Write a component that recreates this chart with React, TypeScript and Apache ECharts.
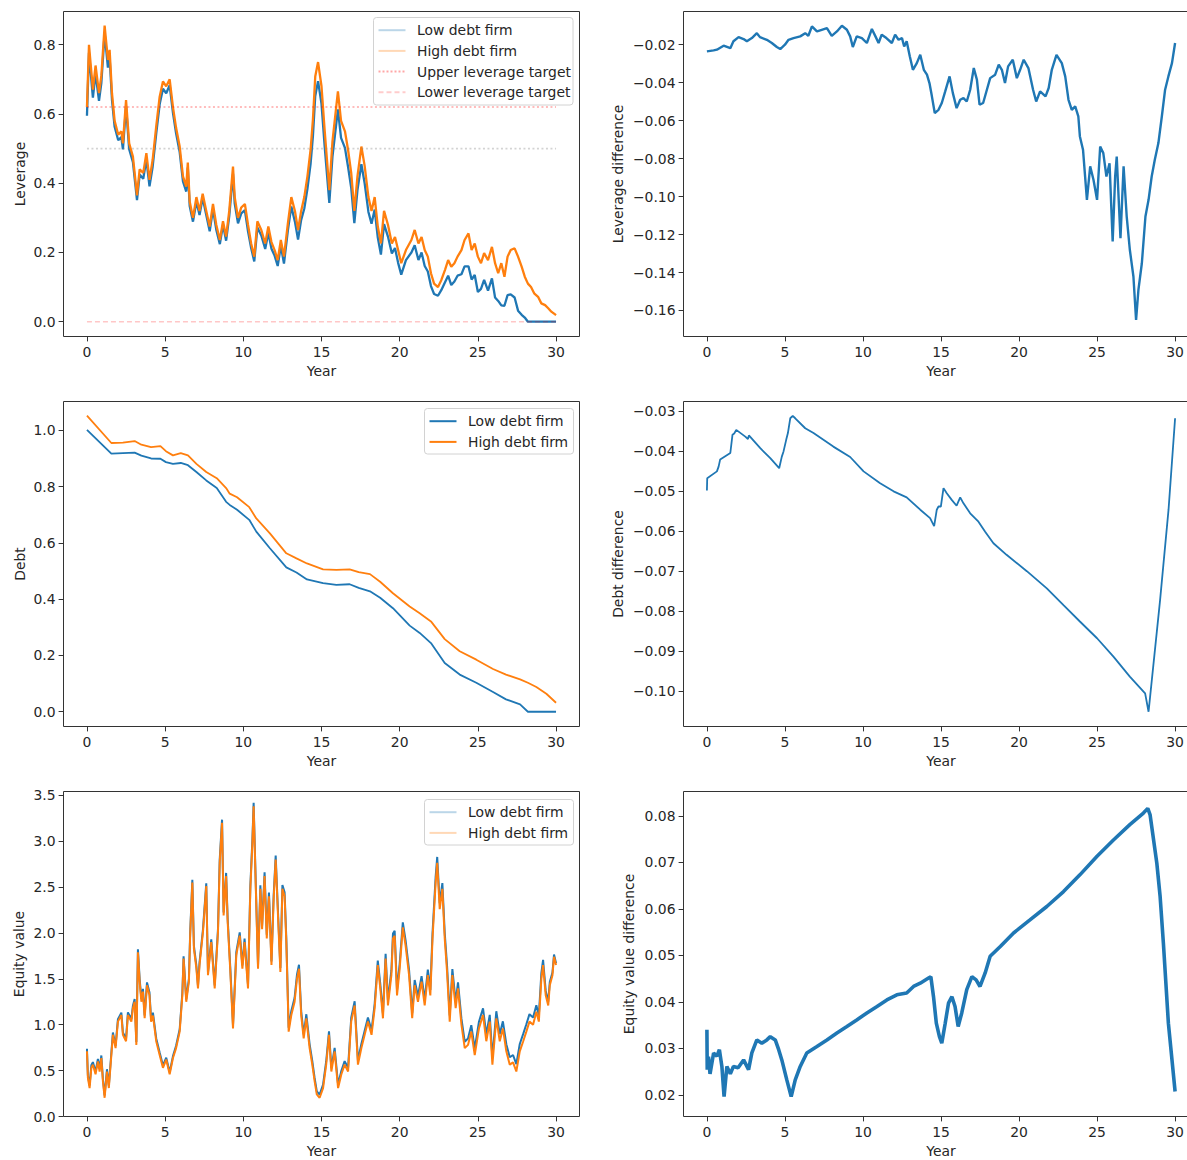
import React, { useEffect, useRef } from "react";
import * as echarts from "echarts";

// ---------------- DATA ----------------
const X_TICKS = [0, 5, 10, 15, 20, 25, 30];
const LEV_TICKS = [0, 0.2, 0.4, 0.6, 0.8];
const LEVDIFF_TICKS = [-0.16, -0.14, -0.12, -0.1, -0.08, -0.06, -0.04, -0.02];
const DEBT_TICKS = [0, 0.2, 0.4, 0.6, 0.8, 1.0];
const DEBTDIFF_TICKS = [-0.1, -0.09, -0.08, -0.07, -0.06, -0.05, -0.04, -0.03];
const EQ_TICKS = [0, 0.5, 1, 1.5, 2, 2.5, 3, 3.5];
const EQDIFF_TICKS = [0.02, 0.03, 0.04, 0.05, 0.06, 0.07, 0.08];

const UPPER_TARGET = 0.62;
const MID_LEVEL = 0.5;
const LOWER_TARGET = 0.0;
const TARGET_SPAN = [0, 30];

const LEV_YEARS = [
  0, 0.13, 0.38, 0.55, 0.77, 0.92, 1.13, 1.34, 1.45, 1.6,
  1.77, 2.0, 2.2, 2.3, 2.5, 2.7, 2.94, 3.2, 3.37, 3.6,
  3.8, 4.0, 4.2, 4.43, 4.65, 4.86, 5.07, 5.29, 5.5, 5.7,
  5.93, 6.14, 6.35, 6.45, 6.57, 6.78, 7.0, 7.2, 7.4, 7.63,
  7.85, 8.06, 8.27, 8.5, 8.7, 8.9, 9.1, 9.34, 9.45, 9.66,
  9.87, 10.1, 10.3, 10.5, 10.7, 10.9, 11.15, 11.4, 11.6, 11.8,
  12.0, 12.2, 12.4, 12.6, 12.85, 13.07, 13.3, 13.5, 13.7, 13.9,
  14.1, 14.3, 14.45, 14.6, 14.78, 15.0, 15.2, 15.5, 15.7, 16.05,
  16.25, 16.5, 16.7, 16.9, 17.1, 17.3, 17.55, 17.76, 18.0, 18.2,
  18.4, 18.6, 18.8, 19.0, 19.25, 19.5, 19.7, 19.9, 20.1, 20.4,
  20.75, 20.96, 21.2, 21.4, 21.6, 21.8, 22.0, 22.2, 22.45, 22.66,
  22.9, 23.1, 23.3, 23.5, 23.7, 23.95, 24.15, 24.4, 24.6, 24.8,
  25.0, 25.2, 25.4, 25.65, 25.9, 26.1, 26.3, 26.5, 26.7, 26.9,
  27.1, 27.35, 27.57, 27.8, 28.0, 28.2, 28.4, 28.6, 28.85, 29.06,
  29.3, 29.5, 29.7, 30.0,
];
const LEV_HIGH = [
  0.62, 0.80, 0.67, 0.74, 0.66, 0.71, 0.855, 0.756, 0.785, 0.66,
  0.58, 0.54, 0.55, 0.515, 0.64, 0.515, 0.477, 0.365, 0.44, 0.43,
  0.487, 0.41, 0.467, 0.564, 0.65, 0.694, 0.68, 0.70, 0.62, 0.56,
  0.506, 0.42, 0.39, 0.46, 0.347, 0.30, 0.36, 0.32, 0.37, 0.32,
  0.275, 0.34, 0.28, 0.236, 0.29, 0.246, 0.32, 0.448, 0.36, 0.30,
  0.33, 0.34, 0.28, 0.226, 0.188, 0.29, 0.265, 0.226, 0.275, 0.23,
  0.207, 0.178, 0.236, 0.188, 0.284, 0.36, 0.32, 0.265, 0.32, 0.36,
  0.42, 0.496, 0.583, 0.708, 0.75, 0.68, 0.554, 0.38, 0.52, 0.665,
  0.58, 0.55, 0.496, 0.43, 0.32, 0.42, 0.506, 0.45, 0.36, 0.32,
  0.36, 0.275, 0.226, 0.32, 0.28, 0.226, 0.245, 0.207, 0.169, 0.207,
  0.236, 0.265, 0.226, 0.245, 0.207, 0.188, 0.14, 0.11, 0.10, 0.12,
  0.15, 0.178, 0.159, 0.169, 0.188, 0.207, 0.236, 0.255, 0.207, 0.226,
  0.188, 0.169, 0.198, 0.178, 0.216, 0.169, 0.14, 0.169, 0.13, 0.188,
  0.207, 0.212, 0.188, 0.159, 0.13, 0.11, 0.10, 0.082, 0.072, 0.053,
  0.048, 0.039, 0.029, 0.019,
];
const LEV_LOW = [
  0.595, 0.777, 0.647, 0.717, 0.638, 0.689, 0.834, 0.734, 0.763, 0.641,
  0.563, 0.524, 0.533, 0.498, 0.622, 0.498, 0.461, 0.351, 0.425, 0.413,
  0.469, 0.391, 0.447, 0.543, 0.628, 0.673, 0.66, 0.683, 0.603, 0.544,
  0.49, 0.405, 0.376, 0.445, 0.334, 0.289, 0.347, 0.308, 0.358, 0.308,
  0.261, 0.325, 0.266, 0.224, 0.28, 0.234, 0.305, 0.427, 0.341, 0.284,
  0.313, 0.322, 0.261, 0.213, 0.174, 0.272, 0.249, 0.21, 0.257, 0.211,
  0.191, 0.161, 0.219, 0.168, 0.264, 0.333, 0.289, 0.237, 0.294, 0.327,
  0.384, 0.455, 0.535, 0.652, 0.695, 0.629, 0.508, 0.343, 0.476, 0.613,
  0.531, 0.502, 0.447, 0.387, 0.285, 0.38, 0.455, 0.40, 0.317, 0.283,
  0.324, 0.243, 0.194, 0.282, 0.246, 0.197, 0.213, 0.17, 0.136, 0.178,
  0.20, 0.221, 0.178, 0.20, 0.161, 0.145, 0.103, 0.08, 0.075, 0.091,
  0.114, 0.133, 0.106, 0.116, 0.133, 0.137, 0.16, 0.16, 0.122, 0.135,
  0.086, 0.095, 0.121, 0.09, 0.125, 0.07, 0.06, 0.047, 0.046, 0.077,
  0.079, 0.07, 0.032, 0.02, 0.012, 0, 0, 0, 0, 0,
  0, 0, 0, 0,
];

const LEVDIFF_YEARS = [
  0, 0.43, 0.64, 1.07, 1.5, 1.7, 2.03, 2.35, 2.56, 2.88,
  3.2, 3.4, 3.84, 4.16, 4.48, 4.7, 5.0, 5.23, 5.55, 5.98,
  6.3, 6.5, 6.73, 7.05, 7.26, 7.69, 8.0, 8.33, 8.65, 8.97,
  9.18, 9.35, 9.6, 9.93, 10.25, 10.57, 10.8, 11.0, 11.2, 11.5,
  11.85, 12.06, 12.28, 12.5, 12.64, 12.8, 13.0, 13.2, 13.45, 13.67,
  13.9, 14.1, 14.26, 14.4, 14.6, 14.84, 15.05, 15.27, 15.55, 15.76,
  16.0, 16.23, 16.44, 16.65, 16.87, 17.1, 17.3, 17.47, 17.7, 17.94,
  18.15, 18.47, 18.7, 18.9, 19.1, 19.3, 19.6, 19.86, 20.07, 20.3,
  20.6, 20.9, 21.1, 21.35, 21.7, 21.9, 22.1, 22.4, 22.74, 22.96,
  23.17, 23.38, 23.6, 23.8, 23.9, 24.1, 24.35, 24.56, 24.77, 25.0,
  25.2, 25.4, 25.6, 25.8, 26.0, 26.16, 26.26, 26.5, 26.7, 26.9,
  27.1, 27.33, 27.5, 27.65, 27.87, 28.1, 28.3, 28.5, 28.7, 28.93,
  29.15, 29.36, 29.57, 29.8, 30.0,
];
const LEVDIFF = [
  -0.0235, -0.023, -0.0226, -0.0205, -0.0218, -0.0182, -0.016, -0.017, -0.0182, -0.0165,
  -0.0139, -0.016, -0.0174, -0.0191, -0.0212, -0.0223, -0.02, -0.0174, -0.0165, -0.0156,
  -0.0139, -0.0153, -0.0103, -0.013, -0.0124, -0.0112, -0.0153, -0.013, -0.01, -0.0121,
  -0.0156, -0.0212, -0.0156, -0.0165, -0.0191, -0.0117, -0.0156, -0.0191, -0.0147, -0.0165,
  -0.0191, -0.0147, -0.0174, -0.0165, -0.0209, -0.0182, -0.0261, -0.0332, -0.0297, -0.0253,
  -0.0332, -0.0358, -0.0402, -0.0464, -0.056, -0.0543, -0.0507, -0.0446, -0.0367, -0.0455,
  -0.0534, -0.049, -0.0481, -0.0499, -0.0437, -0.0323, -0.0384, -0.0516, -0.0507, -0.0437,
  -0.0376, -0.0358, -0.0305, -0.0332, -0.0402, -0.0314, -0.0279, -0.0376, -0.0332, -0.0279,
  -0.0323, -0.0437, -0.0499, -0.0446, -0.0472, -0.0428, -0.0332, -0.0253, -0.0297, -0.0367,
  -0.049, -0.0543, -0.0525, -0.0578, -0.0683, -0.0753, -0.1017, -0.0841, -0.0911, -0.1017,
  -0.0736, -0.0771, -0.0894, -0.0824, -0.1236, -0.0894, -0.0789, -0.1219, -0.0841, -0.1105,
  -0.128, -0.1421, -0.165, -0.1491, -0.1351, -0.1105, -0.1017, -0.0894, -0.0806, -0.0718,
  -0.0578, -0.0437, -0.0367, -0.0297, -0.0191,
];

const DEBT_YEARS = [
  0, 1.56, 2.3, 3.05, 3.48, 4.1, 4.7, 5.05, 5.5, 6.0,
  6.46, 7.0, 7.63, 8.3, 8.9, 9.13, 9.6, 10.38, 10.83, 11.7,
  12.75, 13.4, 14.07, 15.1, 15.95, 16.8, 17.38, 18.1, 18.75, 19.57,
  20.64, 21.28, 22.0, 22.88, 23.84, 24.9, 25.97, 26.8, 27.7, 28.2,
  28.74, 29.38, 30.0,
];
const DEBT_HIGH = [
  1.052, 0.955, 0.956, 0.962, 0.949, 0.94, 0.944, 0.926, 0.911, 0.919,
  0.911, 0.881, 0.852, 0.83, 0.795, 0.775, 0.762, 0.727, 0.687, 0.634,
  0.563, 0.545, 0.527, 0.506, 0.504, 0.506, 0.496, 0.489, 0.462, 0.421,
  0.374, 0.35, 0.321, 0.258, 0.215, 0.185, 0.152, 0.132, 0.115, 0.103,
  0.088, 0.064, 0.032,
];
const DEBT_LOW = [
  1.002, 0.917, 0.919, 0.921, 0.91, 0.9, 0.899, 0.887, 0.881, 0.884,
  0.876, 0.852, 0.822, 0.795, 0.746, 0.735, 0.718, 0.682, 0.64, 0.581,
  0.513, 0.495, 0.47, 0.457, 0.451, 0.453, 0.44, 0.428, 0.405, 0.368,
  0.306, 0.28, 0.244, 0.173, 0.132, 0.103, 0.07, 0.044, 0.026, 0.0,
  0, 0, 0,
];

const DEBTDIFF_YEARS = [
  0, 0.02, 0.64, 0.75, 0.85, 1.5, 1.64, 1.75, 1.88, 2.46,
  2.63, 2.69, 3.42, 4.06, 4.63, 4.8, 4.91, 5.08, 5.19, 5.34,
  5.5, 5.66, 6.3, 6.83, 8.1, 9.18, 10.04, 11.1, 11.96, 12.8,
  13.67, 14.3, 14.56, 14.73, 14.84, 14.99, 15.16, 15.37, 15.7, 16.0,
  16.23, 16.44, 16.87, 17.4, 17.83, 18.36, 19.2, 20.5, 21.78, 22.85,
  23.9, 25.0, 26.05, 27.1, 28.08, 28.3, 28.4, 29.04, 29.58, 30.0,
];
const DEBTDIFF = [
  -0.0498, -0.0467, -0.045, -0.0438, -0.042, -0.0404, -0.0358, -0.0355, -0.0346, -0.0363,
  -0.0369, -0.036, -0.0392, -0.0417, -0.0442, -0.0413, -0.04, -0.0371, -0.0354, -0.0317,
  -0.0311, -0.0317, -0.0342, -0.0354, -0.0388, -0.0414, -0.045, -0.048, -0.05, -0.0515,
  -0.0546, -0.0567, -0.0587, -0.0546, -0.0538, -0.0538, -0.0492, -0.0505, -0.0522, -0.0536,
  -0.0515, -0.053, -0.0555, -0.0576, -0.0601, -0.063, -0.0659, -0.07, -0.0743, -0.0785,
  -0.0826, -0.0868, -0.0914, -0.0964, -0.1006, -0.1052, -0.1014, -0.0772, -0.0546, -0.0317,
];

const EQ_YEARS = [
  0, 0.03, 0.06, 0.17, 0.28, 0.38, 0.55, 0.7, 0.81, 0.92,
  1.02, 1.13, 1.28, 1.4, 1.56, 1.66, 1.83, 1.98, 2.2, 2.3,
  2.5, 2.62, 2.84, 2.94, 3.05, 3.16, 3.26, 3.37, 3.48, 3.58,
  3.69, 3.84, 4.0, 4.1, 4.22, 4.43, 4.65, 4.86, 5.07, 5.29,
  5.5, 5.7, 5.93, 6.1, 6.18, 6.35, 6.52, 6.6, 6.74, 6.84,
  7.0, 7.1, 7.2, 7.42, 7.63, 7.74, 7.95, 8.17, 8.38, 8.49,
  8.64, 8.74, 8.9, 9.0, 9.17, 9.34, 9.55, 9.77, 9.94, 10.08,
  10.3, 10.45, 10.58, 10.66, 10.8, 10.94, 11.09, 11.2, 11.36, 11.5,
  11.64, 11.8, 11.94, 12.07, 12.2, 12.37, 12.5, 12.64, 12.75, 12.9,
  13.07, 13.28, 13.43, 13.56, 13.7, 13.86, 14.03, 14.24, 14.41, 14.56,
  14.7, 14.88, 15.1, 15.3, 15.48, 15.63, 15.84, 16.06, 16.27, 16.48,
  16.7, 16.9, 17.12, 17.33, 17.55, 17.76, 17.97, 18.2, 18.4, 18.6,
  18.76, 18.93, 19.1, 19.25, 19.47, 19.57, 19.68, 19.83, 20.0, 20.2,
  20.38, 20.6, 20.8, 20.96, 21.17, 21.4, 21.6, 21.8, 21.96, 22.1,
  22.3, 22.4, 22.56, 22.73, 22.88, 23.03, 23.2, 23.37, 23.58, 23.73,
  23.95, 24.16, 24.37, 24.58, 24.8, 25.07, 25.33, 25.54, 25.76, 25.93,
  26.18, 26.4, 26.6, 26.82, 27.04, 27.25, 27.46, 27.68, 27.9, 28.1,
  28.3, 28.53, 28.74, 28.9, 29.06, 29.17, 29.34, 29.5, 29.6, 29.77,
  29.87, 30.0,
];
const EQ_HIGH = [
  0.71, 0.565, 0.42, 0.31, 0.53, 0.565, 0.46, 0.6, 0.49, 0.637,
  0.385, 0.204, 0.49, 0.31, 0.67, 0.89, 0.745, 1.034, 1.106, 0.89,
  0.82, 1.106, 1.034, 1.18, 1.25, 0.78, 1.79, 1.47, 1.25, 1.36,
  1.07, 1.43, 1.32, 1.034, 1.1, 0.82, 0.67, 0.53, 0.62, 0.46,
  0.637, 0.745, 0.925, 1.32, 1.72, 1.25, 1.47, 1.97, 2.55, 1.83,
  1.61, 1.395, 1.65, 2.01, 2.51, 1.54, 1.9, 1.395, 2.01, 2.765,
  3.2, 2.19, 2.62, 2.116, 1.575, 0.96, 1.755, 1.97, 1.61, 1.9,
  1.395, 2.48, 2.98, 3.38, 2.48, 1.61, 2.48, 2.04, 2.62, 1.94,
  2.4, 1.65, 2.37, 2.8, 2.26, 1.575, 2.48, 2.4, 1.9, 0.925,
  1.106, 1.25, 1.5, 1.61, 1.106, 0.85, 1.07, 0.745, 0.565, 0.385,
  0.24, 0.204, 0.31, 0.565, 0.89, 0.49, 0.71, 0.31, 0.46, 0.565,
  0.49, 1.034, 1.21, 0.565, 0.745, 0.89, 1.034, 0.89, 1.18, 1.65,
  1.395, 1.07, 1.72, 1.21, 1.54, 1.94, 1.97, 1.32, 1.61, 2.06,
  1.86, 1.54, 1.07, 1.43, 1.25, 1.47, 1.21, 1.54, 1.32, 1.94,
  2.55, 2.765, 2.26, 2.48, 1.94, 1.575, 1.034, 1.54, 1.18, 1.395,
  1.0, 0.745, 0.78, 0.925, 0.67, 0.96, 1.106, 0.82, 1.034, 0.565,
  1.07, 0.82, 0.96, 0.71, 0.565, 0.59, 0.49, 0.71, 0.82, 0.925,
  1.034, 1.0, 1.14, 1.034, 1.5, 1.65, 1.32, 1.21, 1.43, 1.54,
  1.74, 1.65,
];
const EQ_LOW = [
  0.738, 0.593, 0.448, 0.338, 0.558, 0.593, 0.488, 0.628, 0.518, 0.665,
  0.41, 0.229, 0.515, 0.335, 0.695, 0.915, 0.77, 1.059, 1.131, 0.915,
  0.848, 1.134, 1.062, 1.208, 1.281, 0.811, 1.821, 1.501, 1.281, 1.391,
  1.101, 1.461, 1.351, 1.065, 1.131, 0.851, 0.697, 0.557, 0.641, 0.481,
  0.658, 0.771, 0.951, 1.346, 1.746, 1.276, 1.5, 2.0, 2.58, 1.86,
  1.64, 1.425, 1.68, 2.04, 2.54, 1.57, 1.93, 1.429, 2.044, 2.799,
  3.234, 2.224, 2.654, 2.152, 1.611, 0.996, 1.791, 2.006, 1.646, 1.938,
  1.433, 2.518, 3.018, 3.418, 2.518, 1.648, 2.52, 2.08, 2.66, 1.98,
  2.44, 1.69, 2.41, 2.842, 2.302, 1.617, 2.522, 2.442, 1.942, 0.967,
  1.15, 1.294, 1.544, 1.654, 1.15, 0.894, 1.114, 0.789, 0.605, 0.42,
  0.274, 0.238, 0.347, 0.602, 0.927, 0.527, 0.747, 0.348, 0.498, 0.603,
  0.532, 1.076, 1.255, 0.61, 0.79, 0.935, 1.079, 0.938, 1.228, 1.698,
  1.445, 1.12, 1.774, 1.264, 1.594, 1.994, 2.024, 1.374, 1.666, 2.116,
  1.917, 1.597, 1.127, 1.487, 1.31, 1.53, 1.27, 1.6, 1.38, 2.0,
  2.613, 2.828, 2.323, 2.543, 2.003, 1.641, 1.1, 1.606, 1.246, 1.461,
  1.066, 0.815, 0.85, 0.995, 0.74, 1.033, 1.179, 0.893, 1.107, 0.638,
  1.147, 0.897, 1.037, 0.787, 0.645, 0.67, 0.57, 0.79, 0.9, 1.005,
  1.115, 1.078, 1.211, 1.1, 1.562, 1.706, 1.368, 1.25, 1.465, 1.569,
  1.765, 1.671,
];

const EQDIFF_YEARS = [
  0, 0.02, 0.1, 0.2, 0.43, 0.64, 0.8, 0.96, 1.1, 1.28,
  1.5, 1.7, 2.0, 2.35, 2.67, 2.88, 3.2, 3.52, 3.84, 4.06,
  4.38, 4.6, 4.8, 5.12, 5.4, 5.66, 5.98, 6.4, 7.05, 7.69,
  8.33, 8.97, 9.6, 10.25, 10.9, 11.53, 12.17, 12.8, 13.24, 13.67,
  14.2, 14.35, 14.52, 14.7, 14.9, 15.05, 15.27, 15.48, 15.7, 15.9,
  16.1, 16.33, 16.65, 16.98, 17.25, 17.5, 17.83, 18.15, 18.8, 19.65,
  20.7, 21.78, 22.85, 23.9, 25.0, 26.05, 27.1, 27.97, 28.25, 28.4,
  28.83, 29.04, 29.25, 29.57, 30.0,
];
const EQDIFF = [
  0.034, 0.0254, 0.0282, 0.0245, 0.029, 0.0283, 0.0297, 0.0261, 0.0196, 0.0261,
  0.0245, 0.0261, 0.0258, 0.0275, 0.0254, 0.029, 0.0318, 0.0311, 0.0318, 0.0325,
  0.0318, 0.0297, 0.0275, 0.0232, 0.0196, 0.0232, 0.0261, 0.029, 0.0304, 0.0318,
  0.0333, 0.0347, 0.0361, 0.0376, 0.039, 0.0404, 0.0415, 0.0419, 0.0433, 0.044,
  0.0451, 0.0454, 0.0411, 0.0354, 0.0325, 0.0311, 0.0354, 0.0397, 0.0411, 0.039,
  0.0347, 0.0376, 0.0426, 0.0454, 0.0447, 0.0433, 0.0462, 0.0498, 0.0519, 0.0548,
  0.0576, 0.0605, 0.0637, 0.0673, 0.0713, 0.0748, 0.0781, 0.0806, 0.0816, 0.0802,
  0.0698, 0.0627, 0.0526, 0.0354, 0.0207,
];

// ---------------- STYLE / LAYOUT ----------------
const BLUE = "#1f77b4";
const ORANGE = "#ff7f0e";
const TEXT = "#262626";
const FRAME = "#333333";
const FONT = "DejaVu Sans";
const FS = 13.9;

const CANVAS_W = 1200; // the figure is a little wider than the visible 1187 px
const COL_X = [63.5, 683.5];
const COL_W = [516, 515];
const ROW_Y = [11.5, 401.5, 791.5];
const PLOT_H = 325;

function pairs(xs: number[], ys: number[]) {
  return xs.map((x, i) => [x, ys[i]]);
}

function fmt(decimals: number) {
  return (v: number) => {
    const s = Math.abs(v).toFixed(decimals);
    return (v < -1e-12 ? "\u2212" : "") + s;
  };
}

type Panel = {
  col: number;
  row: number;
  yMin: number;
  yMax: number;
  ticks: number[];
  dec: number;
  name: string;
  gap: number;
};

const PANELS: Panel[] = [
  { col: 0, row: 0, yMin: -0.0427, yMax: 0.896, ticks: LEV_TICKS, dec: 1, name: "Leverage", gap: 37 },
  { col: 1, row: 0, yMin: -0.1737, yMax: -0.0025, ticks: LEVDIFF_TICKS, dec: 2, name: "Leverage difference", gap: 59 },
  { col: 0, row: 1, yMin: -0.0525, yMax: 1.1025, ticks: DEBT_TICKS, dec: 1, name: "Debt", gap: 37 },
  { col: 1, row: 1, yMin: -0.1089, yMax: -0.0275, ticks: DEBTDIFF_TICKS, dec: 2, name: "Debt difference", gap: 59 },
  { col: 0, row: 2, yMin: 0, yMax: 3.541, ticks: EQ_TICKS, dec: 1, name: "Equity value", gap: 38 },
  { col: 1, row: 2, yMin: 0.01533, yMax: 0.08523, ticks: EQDIFF_TICKS, dec: 2, name: "Equity value difference", gap: 48 },
];

const labelStyle = { color: TEXT, fontFamily: FONT, fontSize: FS };

function buildOption() {
  const grid = PANELS.map((p) => ({
    left: COL_X[p.col],
    top: ROW_Y[p.row],
    width: COL_W[p.col],
    height: PLOT_H,
    show: true,
    borderColor: FRAME,
    borderWidth: 1,
    backgroundColor: "transparent",
    containLabel: false,
  }));

  const xAxis = PANELS.map((_, i) => ({
    type: "value",
    gridIndex: i,
    min: -1.5,
    max: 31.5,
    name: "Year",
    nameLocation: "middle",
    nameGap: 27,
    nameTextStyle: labelStyle,
    axisLine: { show: false, onZero: false },
    splitLine: { show: false },
    axisTick: { show: true, length: 4.9, lineStyle: { color: FRAME, width: 1 }, customValues: X_TICKS },
    axisLabel: { ...labelStyle, margin: 8, customValues: X_TICKS, formatter: (v: number) => String(v) },
  }));

  const yAxis = PANELS.map((p, i) => ({
    type: "value",
    gridIndex: i,
    min: p.yMin,
    max: p.yMax,
    name: p.name,
    nameLocation: "middle",
    nameGap: p.gap,
    nameTextStyle: labelStyle,
    axisLine: { show: false, onZero: false },
    splitLine: { show: false },
    axisTick: { show: true, length: 4.9, lineStyle: { color: FRAME, width: 1 }, customValues: p.ticks },
    axisLabel: { ...labelStyle, margin: 8, customValues: p.ticks, formatter: fmt(p.dec) },
  }));

  const line = (name: string, idx: number, data: number[][], color: string, width: number, extra: any = {}) => ({
    type: "line",
    name,
    xAxisIndex: idx,
    yAxisIndex: idx,
    data,
    showSymbol: false,
    symbol: "none",
    silent: true,
    clip: true,
    lineStyle: { color, width, ...extra },
    itemStyle: { color },
  });

  const span = (level: number) => TARGET_SPAN.map((x) => [x, level]);

  const series = [
    line("Low debt firm", 0, pairs(LEV_YEARS, LEV_LOW), BLUE, 2.3),
    line("High debt firm", 0, pairs(LEV_YEARS, LEV_HIGH), ORANGE, 2.3),
    line("Upper leverage target", 0, span(UPPER_TARGET), "rgba(255,0,0,0.35)", 1.6, { type: [2, 2.5] }),
    line("Middle level", 0, span(MID_LEVEL), "rgba(128,128,128,0.35)", 1.6, { type: [2, 2.5] }),
    line("Lower leverage target", 0, span(LOWER_TARGET), "rgba(255,0,0,0.22)", 1.6, { type: [5, 3] }),
    line("Leverage difference", 1, pairs(LEVDIFF_YEARS, LEVDIFF), BLUE, 2.4),
    line("Low debt firm ", 2, pairs(DEBT_YEARS, DEBT_LOW), BLUE, 1.8),
    line("High debt firm ", 2, pairs(DEBT_YEARS, DEBT_HIGH), ORANGE, 1.8),
    line("Debt difference", 3, pairs(DEBTDIFF_YEARS, DEBTDIFF), BLUE, 1.8),
    line("Low debt firm  ", 4, pairs(EQ_YEARS, EQ_LOW), BLUE, 2),
    line("High debt firm  ", 4, pairs(EQ_YEARS, EQ_HIGH), ORANGE, 2),
    line("Equity value difference", 5, pairs(EQDIFF_YEARS, EQDIFF), BLUE, 3.6),
  ];

  // matplotlib-style legends drawn as graphics
  const legendBox = (
    x: number,
    y: number,
    w: number,
    h: number,
    rows: { label: string; color: string; dash?: number[] }[]
  ) => {
    const children: any[] = [
      {
        type: "rect",
        shape: { x, y, width: w, height: h, r: 3 },
        style: { fill: "rgba(255,255,255,0.85)", stroke: "#d2d2d2", lineWidth: 1 },
      },
    ];
    rows.forEach((r, i) => {
      const cy = y + 12.7 + i * 20.7;
      children.push({
        type: "line",
        shape: { x1: x + 5, y1: cy, x2: x + 32, y2: cy },
        style: { stroke: r.color, lineWidth: 2, lineDash: r.dash || null },
      });
      children.push({
        type: "text",
        x: x + 43.5,
        y: cy,
        style: { text: r.label, fill: TEXT, fontFamily: FONT, fontSize: FS, verticalAlign: "middle", align: "left" },
      });
    });
    return { type: "group", children };
  };

  const graphic = [
    legendBox(373.5, 17.5, 199.5, 87.5, [
      { label: "Low debt firm", color: "rgba(31,119,180,0.3)" },
      { label: "High debt firm", color: "rgba(255,127,14,0.3)" },
      { label: "Upper leverage target", color: "rgba(255,0,0,0.35)", dash: [2, 2] },
      { label: "Lower leverage target", color: "rgba(255,0,0,0.2)", dash: [5, 3] },
    ]),
    legendBox(424.5, 408.5, 149, 45.5, [
      { label: "Low debt firm", color: BLUE },
      { label: "High debt firm", color: ORANGE },
    ]),
    legendBox(424.5, 799.5, 149, 45.5, [
      { label: "Low debt firm", color: "rgba(31,119,180,0.3)" },
      { label: "High debt firm", color: "rgba(255,127,14,0.3)" },
    ]),
  ];

  return {
    animation: false,
    backgroundColor: "#ffffff",
    grid,
    xAxis,
    yAxis,
    series,
    graphic,
  };
}

export default function App() {
  const ref = useRef<HTMLDivElement>(null);
  useEffect(() => {
    if (!ref.current) return;
    const chart = echarts.init(ref.current, undefined, { renderer: "svg" });
    chart.setOption(buildOption() as any);
    return () => chart.dispose();
  }, []);
  return (
    <div
      style={{
        position: "absolute",
        left: 0,
        top: 0,
        width: 1187,
        height: 1160,
        overflow: "hidden",
        background: "#fff",
      }}
    >
      <div ref={ref} style={{ width: CANVAS_W, height: 1160 }} />
    </div>
  );
}
